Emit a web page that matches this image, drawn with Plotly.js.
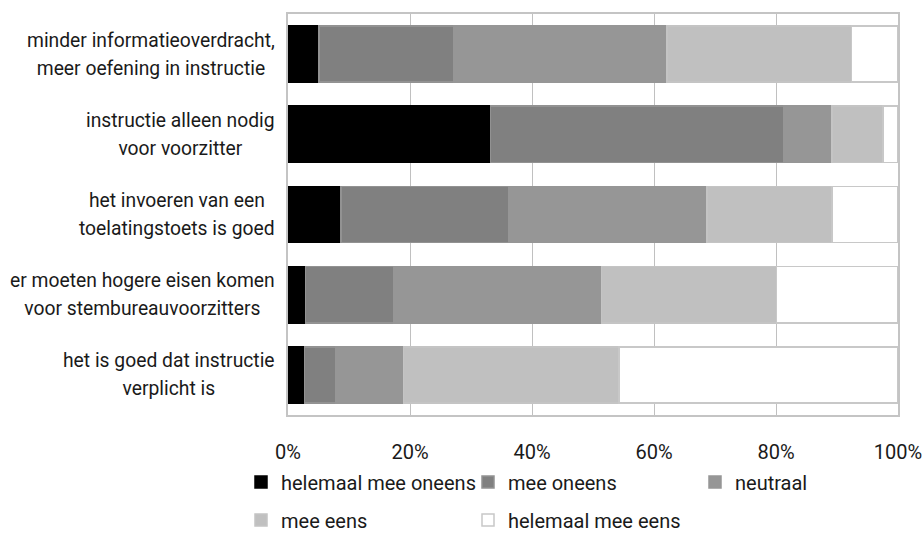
<!DOCTYPE html>
<html>
<head>
<meta charset="utf-8">
<script src="https://cdn.plot.ly/plotly-3.0.1.min.js"></script>
<style>html,body{margin:0;padding:0;background:#fff;}#chart{width:923px;height:533px;}</style>
</head>
<body>
<div id="chart"></div>
<script>
// Categories (top to bottom)
const categories = [
  "minder informatieoverdracht,<br>meer oefening in instructie",
  "instructie alleen nodig<br>voor voorzitter",
  "het invoeren van een<br>toelatingstoets is goed",
  "er moeten hogere eisen komen<br>voor stembureauvoorzitters",
  "het is goed dat instructie<br>verplicht is"
];
// Series names
const seriesNames = ["helemaal mee oneens", "mee oneens", "neutraal", "mee eens", "helemaal mee eens"];
// Series values (% per category, same order as categories)
const helemaalMeeOneens = [5.1, 33.2, 8.7, 2.9, 2.7];
const meeOneens         = [22.1, 48.1, 27.5, 14.4, 5.1];
const neutraal          = [34.9, 7.9, 32.5, 34.1, 11.1];
const meeEens           = [30.3, 8.3, 20.5, 28.7, 35.4];
const helemaalMeeEens   = [7.6, 2.5, 10.8, 19.9, 45.7];
// Tick labels
const tickValues = [0, 20, 40, 60, 80, 100];
const tickLabels = ["0%", "20%", "40%", "60%", "80%", "100%"];

const seriesValues = [helemaalMeeOneens, meeOneens, neutraal, meeEens, helemaalMeeEens];
const fills = ["#000000", "#808080", "#969696", "#c0c0c0", "#ffffff"];
const outlines = ["#000000", "#929292", "#969696", "#c4c4c4", "#c8c8c8"];
const legendIds = ["legend", "legend", "legend", "legend2", "legend2"];

const FONT = "Roboto, 'Liberation Sans', sans-serif";
const TXT = "#1a1a1a";

const traces = seriesValues.map((vals, i) => ({
  type: "bar",
  orientation: "h",
  name: seriesNames[i],
  y: categories,
  x: vals,
  marker: {color: fills[i], line: {color: outlines[i], width: 1.5}},
  legend: legendIds[i],
  hoverinfo: "skip"
}));

const L = 20, R = 20, T = 14, B = 118;
const W = 923, H = 533;
const gw = W - L - R;
const gh = H - T - B;

const annotations = categories.map(c => ({
  text: c.split("<br>").map(s => '<span style="font-size:19.3px">' + s + '</span>').join("<br>"),
  xref: "paper", yref: "y",
  x: (277 - L) / gw, y: c,
  xanchor: "right", yanchor: "middle",
  align: "center",
  showarrow: false,
  font: {family: FONT, size: 21.5, color: TXT}
}));

const legendCommon = {
  orientation: "h",
  xanchor: "left",
  yanchor: "middle",
  x: (241 - L) / gw,
  entrywidth: 182,
  entrywidthmode: "pixels",
  traceorder: "normal",
  bgcolor: "rgba(0,0,0,0)",
  borderwidth: 0,
  font: {family: FONT, size: 20, color: TXT},
  itemclick: false,
  itemdoubleclick: false
};

const layout = {
  width: W, height: H,
  margin: {l: L, r: R, t: T, b: B, pad: 0, autoexpand: false},
  paper_bgcolor: "#ffffff",
  plot_bgcolor: "#ffffff",
  barmode: "stack",
  bargap: 0.3,
  showlegend: true,
  font: {family: FONT, size: 20, color: TXT},
  xaxis: {
    domain: [(288 - L) / gw, (898 - L) / gw],
    range: [0, 100],
    tickmode: "array",
    tickvals: tickValues,
    ticktext: tickLabels,
    ticks: "",
    ticklabelstandoff: 18,
    showgrid: true,
    gridcolor: "#c0c0c0",
    gridwidth: 1,
    showline: true,
    linecolor: "#c4c4c4",
    linewidth: 2,
    mirror: true,
    zeroline: false,
    fixedrange: true,
    tickfont: {family: FONT, size: 20, color: TXT}
  },
  yaxis: {
    type: "category",
    categoryorder: "array",
    categoryarray: categories,
    autorange: "reversed",
    showticklabels: false,
    ticks: "",
    showgrid: false,
    showline: true,
    linecolor: "#c4c4c4",
    linewidth: 2,
    mirror: true,
    zeroline: false,
    fixedrange: true
  },
  legend: Object.assign({}, legendCommon, {y: -(482 - 415) / gh}),
  legend2: Object.assign({}, legendCommon, {y: -(520 - 415) / gh}),
  annotations: annotations
};

Plotly.newPlot("chart", traces, layout, {displayModeBar: false, staticPlot: true});
</script>
</body>
</html>
